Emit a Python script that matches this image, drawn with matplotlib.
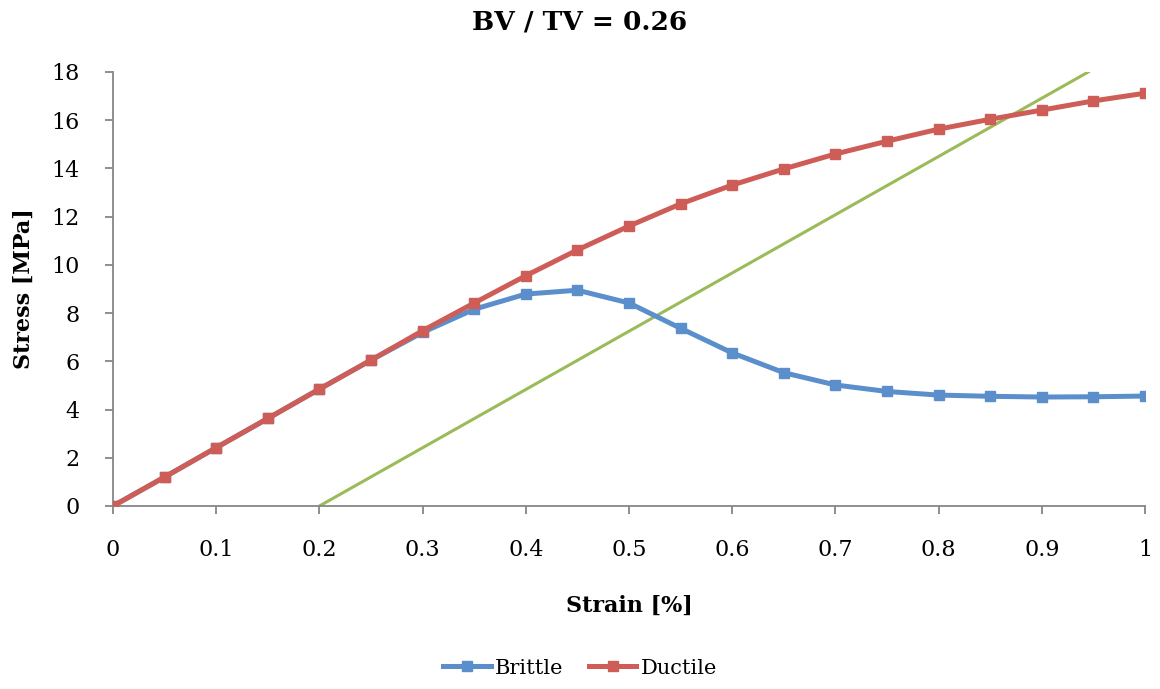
import matplotlib
matplotlib.use("Agg")
import matplotlib.pyplot as plt

plt.rcParams['font.family'] = ['DejaVu Serif']

strain = [0, 0.05, 0.1, 0.15, 0.2, 0.25, 0.3, 0.35, 0.4, 0.45, 0.5,
          0.55, 0.6, 0.65, 0.7, 0.75, 0.8, 0.85, 0.9, 0.95, 1.0]
brittle = [0, 1.2, 2.42, 3.63, 4.85, 6.05, 7.2, 8.16, 8.79, 8.95, 8.42,
           7.37, 6.35, 5.53, 5.02, 4.75, 4.6, 4.55, 4.52, 4.53, 4.56]
ductile = [0, 1.2, 2.42, 3.63, 4.85, 6.05, 7.27, 8.42, 9.55, 10.62, 11.61,
           12.53, 13.31, 13.98, 14.6, 15.13, 15.63, 16.04, 16.42, 16.8, 17.12]
# 0.2% offset line
offset_x = [0.2, 0.945]
offset_y = [0, 18]

blue = '#5B8FCB'
red = '#CF5D57'
green = '#9BBB59'

fig = plt.figure(figsize=(11.6, 6.89), dpi=100)
ax = fig.add_axes([113 / 1160, 1 - 506 / 689, 1032 / 1160, 434 / 689])

ax.plot(offset_x, offset_y, color=green, lw=2.2, zorder=2)
ax.plot(strain, brittle, color=blue, lw=3.6, marker='s', ms=6.5, label='Brittle', zorder=3)
ax.plot(strain, ductile, color=red, lw=3.6, marker='s', ms=6.5, label='Ductile', zorder=4)

ax.set_xlim(0, 1)
ax.set_ylim(0, 18)
ax.set_xticks([0, 0.1, 0.2, 0.3, 0.4, 0.5, 0.6, 0.7, 0.8, 0.9, 1])
ax.set_xticklabels(['0', '0.1', '0.2', '0.3', '0.4', '0.5', '0.6', '0.7', '0.8', '0.9', '1'])
ax.set_yticks(range(0, 19, 2))

for s in ['top', 'right']:
    ax.spines[s].set_visible(False)
for s in ['left', 'bottom']:
    ax.spines[s].set_color('#868686')
    ax.spines[s].set_linewidth(1.3)
ax.tick_params(axis='both', colors='#868686', length=6, width=1.3, labelsize=16,
               labelcolor='black')
ax.tick_params(axis='x', pad=18)
ax.tick_params(axis='y', pad=18)
for lab in ax.get_xticklabels() + ax.get_yticklabels():
    lab.set_clip_on(False)
ax.set_clip_on(False)

ax.set_xlabel('Strain [%]', fontsize=16, fontweight='bold', labelpad=24)
ax.set_ylabel('Stress [MPa]', fontsize=16, fontweight='bold', labelpad=12)
fig.suptitle('BV / TV = 0.26', fontsize=19, fontweight='bold', x=580 / 1160, y=1 - 22 / 689, va='center')

fig.legend(handles=ax.get_lines()[1:], loc='center', bbox_to_anchor=(580 / 1160, 1 - 668 / 689),
           ncol=2, frameon=False, fontsize=15, handlelength=2.3, columnspacing=1.2, handletextpad=0.2)

fig.savefig('out.png', dpi=100)
